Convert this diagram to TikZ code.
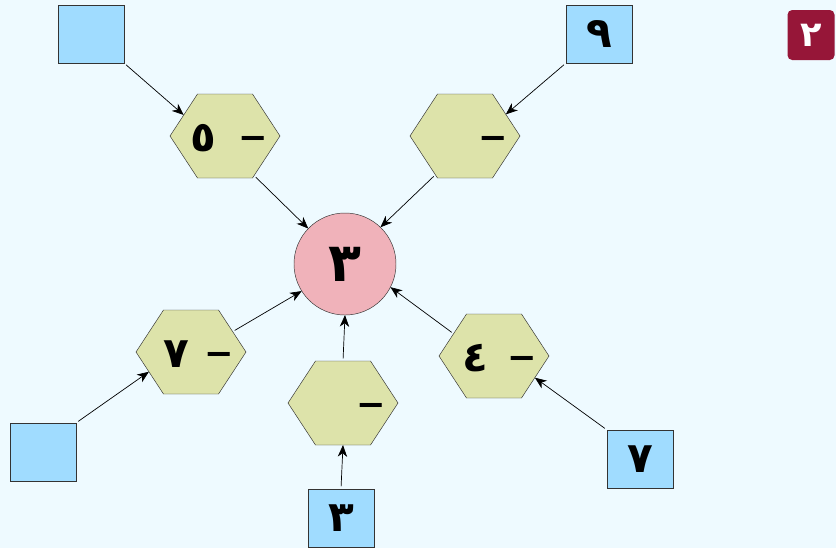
\documentclass[tikz,border=0pt]{standalone}
\usepackage{fontspec}
\newfontfamily\arabicfont[Script=Arabic]{DejaVu Sans}
\usetikzlibrary{shapes.geometric,arrows.meta}
\definecolor{fond}{RGB}{238,250,255}
\definecolor{bleu}{RGB}{160,220,255}
\definecolor{vert}{RGB}{221,227,170}
\definecolor{rose}{RGB}{240,178,186}
\definecolor{bordeaux}{RGB}{150,22,56}
\begin{document}
\begin{tikzpicture}[x=0.03cm,y=-0.03cm,
    boite/.style={draw=black!80, fill=bleu, minimum width=1.98cm, minimum height=1.74cm, inner sep=0pt, font=\arabicfont\bfseries\fontsize{36}{36}\selectfont},
    hexa/.style={regular polygon, regular polygon sides=6, minimum size=2.91cm, inner sep=0pt, outer sep=0pt, xscale=1.134, transform shape, draw=black!80, fill=vert},
    chiffre/.style={inner sep=0pt, font=\arabicfont\bfseries\fontsize{36}{36}\selectfont},
    moins/.style={inner sep=0pt, font=\arabicfont\bfseries\fontsize{30}{30}\selectfont},
    fleche/.style={-{Stealth[length=10pt,width=8pt,inset=3pt]}, semithick, shorten <=2pt}]
    \fill[fond] (0,0) rectangle (836,548);

    % badge
    \node[fill=bordeaux, rounded corners=4pt, minimum width=1.41cm, minimum height=1.5cm, inner sep=0pt, text=white, font=\arabicfont\bfseries\fontsize{30}{30}\selectfont] (badge) at (811,35) {٢};

    % centre
    \node[circle, draw=black!80, fill=rose, minimum size=3.06cm, inner sep=0pt, outer sep=0pt, font=\arabicfont\bfseries\fontsize{46}{46}\selectfont] (c) at (345,264) {٣};

    % hexagones
    \node[hexa] (h1) at (225,136) {};
    \node[hexa] (h2) at (465,136) {};
    \node[hexa] (h3) at (191,352) {};
    \node[hexa] (h4) at (343,403) {};
    \node[hexa] (h5) at (494,356) {};
    \foreach \h in {1,...,5}
        \node[moins] (m\h) at ([xshift=0.84cm,yshift=-0.22cm]h\h.center) {−};
    \node[chiffre] (n1) at ([xshift=-0.66cm,yshift=-2pt]h1.center) {٥};
    \node[chiffre] (n3) at ([xshift=-0.45cm,yshift=-2pt]h3.center) {٧};
    \node[chiffre] (n5) at ([xshift=-0.55cm,yshift=-2pt]h5.center) {٤};

    % boites
    \node[boite] (b1) at (91,34) {};
    \node[boite] (b2) at (599,34) {٩};
    \node[boite] (b3) at (43,452) {};
    \node[boite] (b4) at (341,518) {٣};
    \node[boite] (b5) at (640,459) {٧};

    % fleches
    \draw[fleche] (b1.south east) -- (h1.150);
    \draw[fleche] (b2.south west) -- (h2.31);
    \draw[fleche] (b3.north east) -- (h3.208);
    \draw[fleche] (b4.north) -- (h4.south);
    \draw[fleche] (b5.north west) -- (h5.329);
    \foreach \h/\a/\b in {h1/-57/136, h2/-124/46, h3/29/212, h4/90/-90, h5/148/-27}
        \draw[fleche] (\h.\a) -- (c.\b);
\end{tikzpicture}
\end{document}
